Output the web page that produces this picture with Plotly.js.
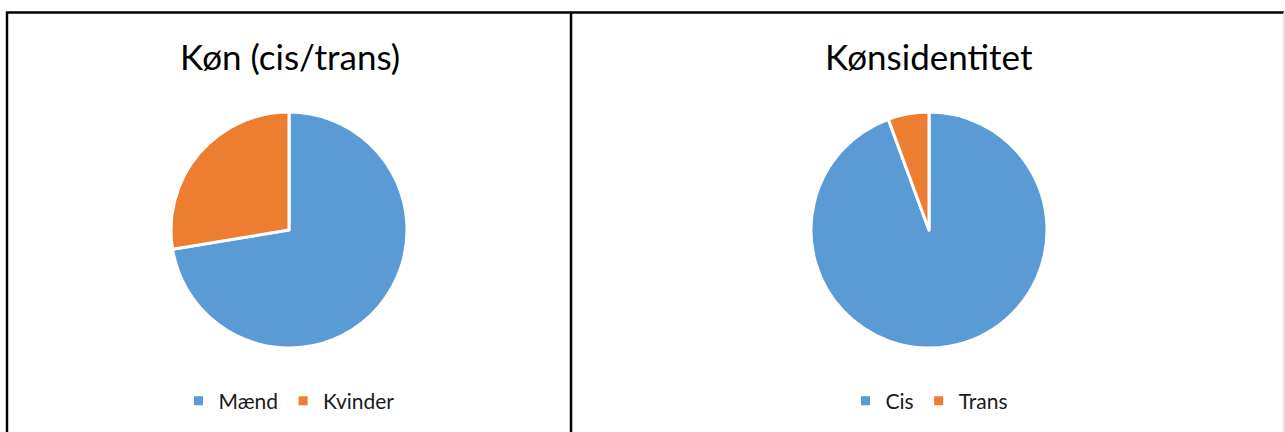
<!DOCTYPE html>
<html>
<head>
<meta charset="utf-8">
<script src="https://cdn.plot.ly/plotly-3.0.1.min.js"></script>
<style>html,body{margin:0;padding:0;background:#fff;}#chart{width:1285px;height:432px;}</style>
</head>
<body>
<div id="chart"></div>
<script>
const title1 = "Køn (cis/trans)";
const labels1 = ["Mænd", "Kvinder"];
const values1 = [72.4, 27.6];
const title2 = "Kønsidentitet";
const labels2 = ["Cis", "Trans"];
const values2 = [94.4, 5.6];
const colors = ["#5B9BD5", "#ED7D31"];

const W = 1285, H = 432;
const px = x => x / W;
const py = y => 1 - y / H;
const R = 118;
function dom(cx, cy) {
  return {x: [px(cx - R), px(cx + R)], y: [py(cy + R), py(cy - R)]};
}
const FONT = "Lato, 'Open Sans', sans-serif";

const pieCommon = {
  type: "pie",
  sort: false,
  direction: "clockwise",
  rotation: 0,
  textinfo: "none",
  hoverinfo: "label+percent",
  marker: {colors: colors, line: {color: "#ffffff", width: 3}}
};

const data = [
  Object.assign({}, pieCommon, {labels: labels1, values: values1, domain: dom(289, 230), legend: "legend"}),
  Object.assign({}, pieCommon, {labels: labels2, values: values2, domain: dom(929, 230), legend: "legend2"})
];

const legendCommon = {
  orientation: "h",
  xanchor: "center",
  yanchor: "middle",
  font: {family: FONT, size: 21, color: "#1a1a1a"},
  itemclick: false,
  bgcolor: "rgba(0,0,0,0)",
  tracegroupgap: 0
};

const line = c => ({color: c, width: 2.5});
const layout = {
  width: W, height: H,
  margin: {l: 0, r: 0, t: 0, b: 0},
  paper_bgcolor: "#ffffff",
  showlegend: true,
  legend: Object.assign({}, legendCommon, {x: px(289), y: py(401)}),
  legend2: Object.assign({}, legendCommon, {x: px(929), y: py(401)}),
  annotations: [
    {text: title1, x: px(290), y: py(56), xref: "paper", yref: "paper", showarrow: false,
     xanchor: "center", yanchor: "middle", font: {family: FONT, size: 35, color: "#000"}},
    {text: title2, x: px(929), y: py(56), xref: "paper", yref: "paper", showarrow: false,
     xanchor: "center", yanchor: "middle", font: {family: FONT, size: 35, color: "#000"}}
  ],
  shapes: [
    {type: "line", xref: "paper", yref: "paper", x0: px(6), x1: px(1284), y0: py(12.5), y1: py(12.5), line: line("#000")},
    {type: "line", xref: "paper", yref: "paper", x0: px(7), x1: px(7), y0: py(12), y1: py(432), line: line("#000")},
    {type: "line", xref: "paper", yref: "paper", x0: px(571), x1: px(571), y0: py(12), y1: py(432), line: line("#000")},
    {type: "line", xref: "paper", yref: "paper", x0: px(1284), x1: px(1284), y0: py(12), y1: py(432), line: {color: "#d9d9d9", width: 1.5}}
  ]
};

Plotly.newPlot("chart", data, layout, {displayModeBar: false, staticPlot: true});
</script>
</body>
</html>
